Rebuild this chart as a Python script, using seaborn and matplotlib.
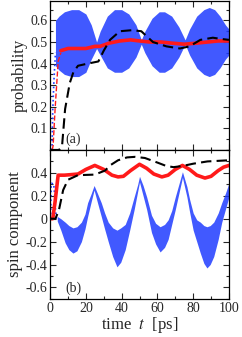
import numpy as np
import matplotlib
matplotlib.use("Agg")
import matplotlib.pyplot as plt
from matplotlib.ticker import MultipleLocator
import seaborn as sns

sns.set_theme(style="ticks")
plt.rcParams['font.family'] = ['Liberation Serif', 'DejaVu Serif']
plt.rcParams['mathtext.fontset'] = 'stix'

# ---- panel (a): probability ----
a_blue_early_t = [0.5, 1.1, 1.5, 2.2, 3.0]
a_blue_early_v = [0.0, 0.02, 0.19, 0.33, 0.45]

a_band_t = [3, 5, 8, 12, 16, 20, 23, 26, 28, 32, 36, 40, 44, 48, 51, 53, 57, 61, 64, 68,
            72, 75.5, 78, 82, 86, 89, 92, 95, 98, 100]
a_band_hi = [0.60, 0.62, 0.64, 0.65, 0.65, 0.63, 0.58, 0.50, 0.55, 0.62, 0.65, 0.65, 0.63,
             0.58, 0.51, 0.55, 0.61, 0.64, 0.64, 0.62, 0.57, 0.51, 0.56, 0.62, 0.65, 0.66,
             0.65, 0.62, 0.58, 0.56]
a_band_lo = [0.39, 0.37, 0.35, 0.34, 0.34, 0.36, 0.42, 0.47, 0.44, 0.38, 0.36, 0.36, 0.38,
             0.43, 0.49, 0.45, 0.39, 0.36, 0.36, 0.38, 0.43, 0.49, 0.44, 0.38, 0.35, 0.34,
             0.35, 0.38, 0.42, 0.44]

a_red_early_t = [1.2, 1.7, 2.8, 3.9, 4.5, 6.0]
a_red_early_v = [0.0, 0.02, 0.19, 0.33, 0.41, 0.45]
a_red_t = [6, 10, 15, 20, 25, 28, 33, 39, 45, 50, 56, 62, 68, 75, 82, 88, 94, 100]
a_red_v = [0.46, 0.47, 0.47, 0.47, 0.48, 0.48, 0.495, 0.505, 0.51, 0.505, 0.50, 0.50,
           0.495, 0.49, 0.495, 0.50, 0.505, 0.505]

a_blk_t = [0, 3, 5, 6.7, 8.4, 11, 13, 15.6, 21, 27, 30, 33.5, 39, 46, 51, 57.5, 65, 72.6,
           78, 84, 91, 95, 100]
a_blk_v = [0.0, 0.0, 0.0, 0.02, 0.19, 0.31, 0.36, 0.39, 0.40, 0.41, 0.46, 0.51, 0.55, 0.555,
           0.55, 0.50, 0.48, 0.47, 0.48, 0.51, 0.52, 0.515, 0.51]

# ---- panel (b): spin component ----
b_blue_early_t = [0.3, 0.6, 1.0, 1.5, 2.0, 2.5, 3.0, 3.5, 4.0]
b_blue_early_v = [0.0, 0.30, 0.31, 0.30, 0.30, 0.22, 0.08, 0.0, 0.02]

b_band_t = [4, 6, 8.4, 10.5, 12.8, 15, 17.5, 19.5, 21, 23, 24.6,
            26.5, 28.6, 30.5, 32.5, 35, 37.4, 39.5, 42, 44.5, 47, 49, 50,
            52, 54, 56.7, 59, 61.5, 64, 66, 68, 70, 72, 74,
            76.5, 78, 80, 82, 84, 86, 87.7, 89.5, 91.5, 94, 96, 98, 100]
b_band_hi = [0.02, 0.00, -0.03, -0.06, -0.08, -0.07, -0.03, 0.04, 0.14, 0.22, 0.29,
             0.22, 0.14, 0.05, -0.03, -0.08, -0.10, -0.08, -0.05, 0.05, 0.19, 0.30, 0.37,
             0.29, 0.19, 0.03, -0.04, -0.07, -0.05, -0.01, 0.07, 0.19, 0.30, 0.41,
             0.28, 0.17, 0.05, -0.01, -0.03, -0.06, -0.07, -0.06, -0.03, 0.05, 0.14, 0.22, 0.31]
b_band_lo = [-0.02, -0.10, -0.21, -0.27, -0.30, -0.28, -0.20, -0.09, 0.02, 0.15, 0.25,
             0.14, 0.02, -0.09, -0.20, -0.33, -0.42, -0.38, -0.27, -0.10, 0.08, 0.24, 0.32,
             0.20, 0.08, -0.12, -0.22, -0.29, -0.25, -0.18, -0.05, 0.08, 0.22, 0.36,
             0.19, 0.06, -0.10, -0.20, -0.30, -0.39, -0.43, -0.40, -0.33, -0.18, -0.03, 0.08, 0.19]

b_red_t = [0, 1.5, 2.8, 4.5, 8, 12, 15.6, 20, 25, 30, 34.6, 38, 41, 45, 50, 54, 58, 62.5,
           66, 70, 74, 78, 82, 86.6, 90, 94, 97, 100]
b_red_v = [0.0, 0.0, 0.15, 0.38, 0.38, 0.385, 0.39, 0.43, 0.465, 0.43, 0.38, 0.365, 0.37,
           0.42, 0.475, 0.44, 0.39, 0.365, 0.38, 0.43, 0.465, 0.43, 0.38, 0.355, 0.37, 0.42,
           0.45, 0.465]

b_blk_t = [0, 3, 5, 7.3, 10, 15.6, 25, 30.7, 34, 38, 43, 47.5, 53, 60, 65, 69, 74, 80, 88,
           94, 100]
b_blk_v = [0.0, 0.0, 0.08, 0.25, 0.34, 0.38, 0.385, 0.42, 0.47, 0.51, 0.535, 0.54, 0.53,
           0.49, 0.46, 0.45, 0.46, 0.48, 0.50, 0.505, 0.51]

BLUE = '#1f3cff'
RED = '#ff1a1a'

fig, (ax1, ax2) = plt.subplots(2, 1, sharex=True, figsize=(2.42, 3.37), dpi=100)
fig.subplots_adjust(left=0.207, right=0.946, top=0.997, bottom=0.113, hspace=0)

# panel (a)
ax1.fill_between(a_band_t, a_band_lo, a_band_hi, color=BLUE, alpha=0.85, linewidth=0)
sns.lineplot(x=a_blue_early_t, y=a_blue_early_v, ax=ax1, color=BLUE, linestyle=':', linewidth=1.2)
sns.lineplot(x=a_red_early_t, y=a_red_early_v, ax=ax1, color=RED, linestyle='--', linewidth=1.0)
sns.lineplot(x=a_red_t, y=a_red_v, ax=ax1, color=RED, linewidth=2.6)
sns.lineplot(x=a_blk_t, y=a_blk_v, ax=ax1, color='black', linewidth=1.5, dashes=(5, 2.5))
ax1.set_ylim(0, 0.69)
ax1.set_yticks([0.1, 0.2, 0.3, 0.4, 0.5, 0.6])
ax1.yaxis.set_minor_locator(MultipleLocator(0.05))
ax1.set_ylabel('probability', fontsize=12, labelpad=2)
ax1.text(0.085, 0.045, '(a)', transform=ax1.transAxes, fontsize=10)

# panel (b)
ax2.fill_between(b_band_t, b_band_lo, b_band_hi, color=BLUE, alpha=0.85, linewidth=0)
sns.lineplot(x=b_blue_early_t, y=b_blue_early_v, ax=ax2, color=BLUE, linestyle=':', linewidth=1.2)
sns.lineplot(x=b_red_t, y=b_red_v, ax=ax2, color=RED, linewidth=2.6)
sns.lineplot(x=b_blk_t, y=b_blk_v, ax=ax2, color='black', linewidth=1.5, dashes=(5, 2.5))
ax2.set_ylim(-0.7, 0.6)
ax2.set_yticks([-0.6, -0.4, -0.2, 0, 0.2, 0.4])
ax2.set_yticklabels(['-0.6', '-0.4', '-0.2', '0', '0.2', '0.4'])
ax2.yaxis.set_minor_locator(MultipleLocator(0.1))
ax2.set_ylabel('spin component', fontsize=12, labelpad=2)
ax2.text(0.085, 0.045, '(b)', transform=ax2.transAxes, fontsize=10)

ax2.set_xlim(0, 100)
ax2.set_xticks([0, 20, 40, 60, 80, 100])
ax2.xaxis.set_minor_locator(MultipleLocator(10))
ax2.set_xlabel('time  $t$  [ps]', fontsize=12, labelpad=0)

for ax in (ax1, ax2):
    ax.tick_params(which='both', direction='in', top=True, right=True, labelsize=10,
                   width=0.8, pad=2)
    ax.tick_params(which='major', length=4)
    ax.tick_params(which='minor', length=2.5)
    for s in ax.spines.values():
        s.set_linewidth(0.9)
        s.set_color('black')

fig.savefig('out.png', dpi=100)
